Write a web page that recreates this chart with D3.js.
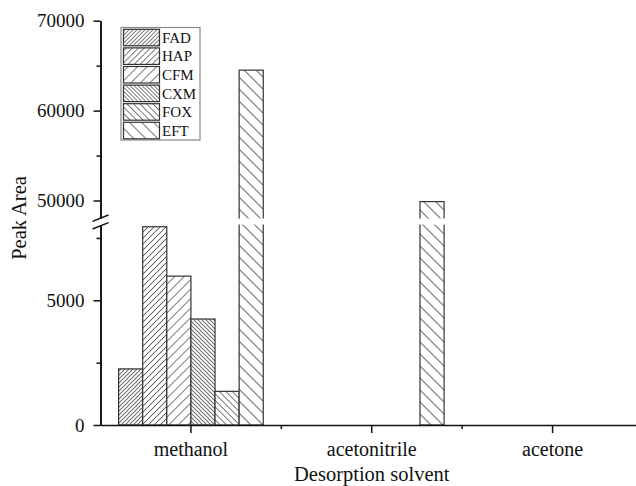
<!DOCTYPE html>
<html>
<head>
<meta charset="utf-8">
<script src="https://cdn.jsdelivr.net/npm/d3@7"></script>
<style>
  body { margin: 0; background: #fff; }
  svg { display: block; }
  text { font-family: "Liberation Serif", "Times New Roman", serif; fill: #111; }
</style>
</head>
<body>
<div id="chart"></div>
<script>
// chart data
const categories = ["methanol", "acetonitrile", "acetone"];
const seriesNames = ["FAD", "HAP", "CFM", "CXM", "FOX", "EFT"];
const FAD = [2250, 0, 0];
const HAP = [7950, 0, 0];
const CFM = [5970, 0, 0];
const CXM = [4250, 0, 0];
const FOX = [1350, 0, 0];
const EFT = [64500, 49880, 0];
const seriesValues = [FAD, HAP, CFM, CXM, FOX, EFT];

const upperTicks = [50000, 60000, 70000];
const upperMinor = [55000, 65000];
const lowerTicks = [0, 5000];
const lowerMinor = [2500, 7500];

// frame
const FRAME_WIDTH = 636;
const FRAME_HEIGHT = 486;
const AXIS_X = 100.5;
const PLOT_RIGHT = 643;

// hatch pattern: direction and horizontal spacing
const PATTERNS = [
  {dir: "/", gap: 4},
  {dir: "/", gap: 6},
  {dir: "/", gap: 9.5},
  {dir: "\\", gap: 4},
  {dir: "\\", gap: 6.5},
  {dir: "\\", gap: 12}
];

const svg = d3.select("#chart").append("svg")
  .attr("width", FRAME_WIDTH)
  .attr("height", FRAME_HEIGHT);

const defs = svg.append("defs");

PATTERNS.forEach((p, i) => {
  const s = p.gap / Math.SQRT2;
  const pat = defs.append("pattern")
    .attr("id", "hatch" + i)
    .attr("patternUnits", "userSpaceOnUse")
    .attr("width", s)
    .attr("height", s)
    .attr("patternTransform", "rotate(" + (p.dir === "/" ? 45 : -45) + ")");
  pat.append("rect").attr("width", s).attr("height", s).attr("fill", "#fff");
  pat.append("line")
    .attr("x1", s / 2).attr("x2", s / 2)
    .attr("y1", 0).attr("y2", s)
    .attr("stroke", "#5a5a5a")
    .attr("stroke-width", 0.8);
});

// scales
const x = d3.scaleBand()
  .domain(categories)
  .range([AXIS_X, PLOT_RIGHT])
  .paddingInner(0.2)
  .paddingOuter(0.1);

const xInner = d3.scaleBand()
  .domain(seriesNames)
  .range([0, x.bandwidth()])
  .padding(0);

const yUpper = d3.scaleLinear().domain([48000, 70000]).range([218.5, 20.7]);
const yLower = d3.scaleLinear().domain([0, 8000]).range([425, 225.5]);

const segments = [
  {id: "clipUpper", scale: yUpper},
  {id: "clipLower", scale: yLower}
];

segments.forEach(seg => {
  const r = seg.scale.range();
  defs.append("clipPath").attr("id", seg.id)
    .append("rect")
      .attr("x", AXIS_X)
      .attr("y", r[1] - 1)
      .attr("width", PLOT_RIGHT - AXIS_X)
      .attr("height", r[0] - r[1] + 1);
});

// flatten bars
const bars = [];
categories.forEach((c, ci) => {
  seriesNames.forEach((s, si) => {
    const v = seriesValues[si][ci];
    if (v > 0) bars.push({cat: c, series: s, si: si, value: v});
  });
});

// bars drawn in each segment, clipped
segments.forEach(seg => {
  const dom = seg.scale.domain();
  const g = svg.append("g").attr("clip-path", "url(#" + seg.id + ")");
  const segBars = bars.filter(d => d.value > dom[0]);
  g.selectAll("rect.bar")
    .data(segBars)
    .join("rect")
      .attr("class", "bar")
      .attr("x", d => x(d.cat) + xInner(d.series))
      .attr("width", xInner.bandwidth())
      .attr("y", d => seg.scale(Math.min(d.value, dom[1] * 1.02)))
      .attr("height", d => {
        const bottom = dom[0] === 0 ? seg.scale(0) : seg.scale(dom[0]) + 6;
        return bottom - seg.scale(Math.min(d.value, dom[1] * 1.02));
      })
      .attr("fill", d => "url(#hatch" + d.si + ")")
      .attr("stroke", "#333")
      .attr("stroke-width", 1.2);
});

// y axes
function styleAxis(g) {
  g.select(".domain").attr("stroke", "#111").attr("stroke-width", 1.6);
  g.selectAll(".tick line").attr("stroke", "#111").attr("stroke-width", 1.5);
  g.selectAll(".tick text")
    .attr("font-size", "19px")
    .attr("font-family", "Liberation Serif, serif")
    .attr("fill", "#111");
}

const upperAxis = svg.append("g")
  .attr("transform", "translate(" + AXIS_X + ",0)")
  .call(d3.axisLeft(yUpper).tickValues(upperTicks).tickSize(7).tickSizeOuter(0)
    .tickPadding(9).tickFormat(d3.format("d")))
  .call(styleAxis);

svg.append("g")
  .attr("transform", "translate(" + AXIS_X + ",0)")
  .call(d3.axisLeft(yUpper).tickValues(upperMinor).tickSize(4).tickSizeOuter(0).tickFormat(""))
  .call(styleAxis);

svg.append("g")
  .attr("transform", "translate(" + AXIS_X + ",0)")
  .call(d3.axisLeft(yLower).tickValues(lowerTicks).tickSize(7).tickSizeOuter(0)
    .tickPadding(9).tickFormat(d3.format("d")))
  .call(styleAxis);

svg.append("g")
  .attr("transform", "translate(" + AXIS_X + ",0)")
  .call(d3.axisLeft(yLower).tickValues(lowerMinor).tickSize(4).tickSizeOuter(0).tickFormat(""))
  .call(styleAxis);

// break marks on the y axis
const breakMid = (yUpper.range()[0] + yLower.range()[1]) / 2;
[-3.8, 3.8].forEach(off => {
  svg.append("line")
    .attr("x1", AXIS_X - 8).attr("y1", breakMid + off + 3.2)
    .attr("x2", AXIS_X + 8).attr("y2", breakMid + off - 3.2)
    .attr("stroke", "#111")
    .attr("stroke-width", 1.5);
});

// x axis
const xAxis = svg.append("g")
  .attr("transform", "translate(0," + yLower(0) + ")")
  .call(d3.axisBottom(x).tickSize(8).tickSizeOuter(0).tickPadding(9));
xAxis.select(".domain").attr("stroke", "#111").attr("stroke-width", 1.6);
xAxis.selectAll(".tick line").attr("stroke", "#111").attr("stroke-width", 1.5);
xAxis.selectAll(".tick text")
  .attr("font-size", "20px")
  .attr("font-family", "Liberation Serif, serif")
  .attr("fill", "#111");

// minor ticks between categories
const boundaries = categories.slice(1).map(c => x(c) - x.step() * x.paddingOuter());
svg.append("g").selectAll("line")
  .data(boundaries)
  .join("line")
    .attr("x1", d => d).attr("x2", d => d)
    .attr("y1", yLower(0)).attr("y2", yLower(0) + 4)
    .attr("stroke", "#111")
    .attr("stroke-width", 1.5);

// axis titles
svg.append("text")
  .attr("x", (AXIS_X + PLOT_RIGHT) / 2)
  .attr("y", 481)
  .attr("text-anchor", "middle")
  .attr("font-size", "20.5px")
  .text("Desorption solvent");

svg.append("text")
  .attr("transform", "translate(26,218) rotate(-90)")
  .attr("text-anchor", "middle")
  .attr("font-size", "20.5px")
  .text("Peak Area");

// legend
const LEG = {x: 121, y: 27.5, w: 79, h: 112.5, pitch: 18.6};
svg.append("rect")
  .attr("x", LEG.x).attr("y", LEG.y)
  .attr("width", LEG.w).attr("height", LEG.h)
  .attr("fill", "#fff")
  .attr("stroke", "#888")
  .attr("stroke-width", 1.2);

const legendItems = svg.append("g").selectAll("g")
  .data(seriesNames)
  .join("g")
    .attr("transform", (d, i) => "translate(" + (LEG.x + 2.5) + "," + (LEG.y + 1.8 + i * LEG.pitch) + ")");

legendItems.append("rect")
  .attr("width", 36)
  .attr("height", 16.5)
  .attr("fill", (d, i) => "url(#hatch" + i + ")")
  .attr("stroke", "#333")
  .attr("stroke-width", 1.2);

legendItems.append("text")
  .attr("x", 38.5)
  .attr("y", 13.5)
  .attr("font-size", "15px")
  .text(d => d);
</script>
</body>
</html>
